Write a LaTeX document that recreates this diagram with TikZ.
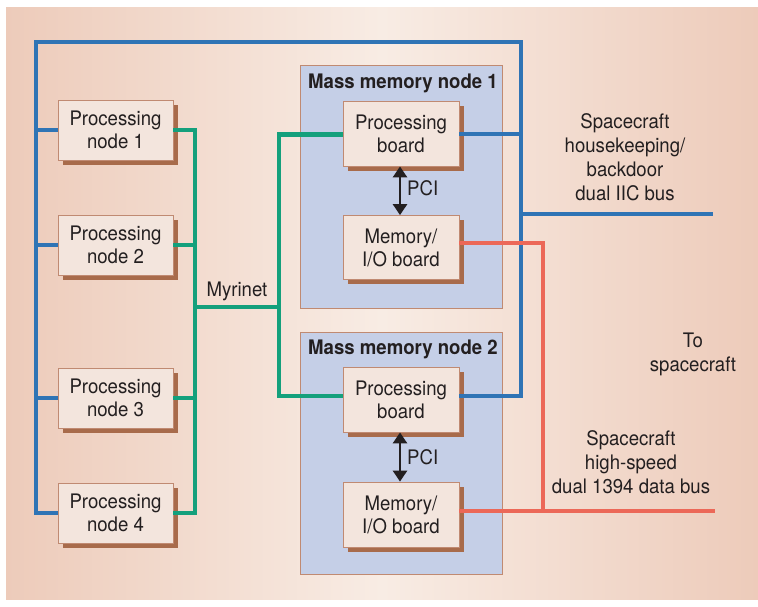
\documentclass[tikz,border=0pt]{standalone}
\usepackage{fontspec}
\setmainfont{TeX Gyre Heros}[FakeStretch=0.93]
\usetikzlibrary{arrows.meta,shadows}

\definecolor{bgedge}{HTML}{EDCBBA}
\definecolor{bgmid}{HTML}{F8ECE4}
\definecolor{busblue}{HTML}{2F74B5}
\definecolor{busgreen}{HTML}{14A07C}
\definecolor{busred}{HTML}{EC6858}
\definecolor{boxfill}{HTML}{F3E5DD}
\definecolor{boxline}{HTML}{C08A72}
\definecolor{boxshadow}{HTML}{A86B4B}
\definecolor{mmfill}{HTML}{C5CFE7}
\definecolor{ink}{HTML}{231F20}

\tikzset{
  unit/.style={draw=boxline, line width=0.8pt, fill=boxfill,
    minimum width=115pt, minimum height=60pt, inner sep=0pt,
    align=center, text=ink, font=\fontsize{20}{23}\selectfont,
    drop shadow={shadow xshift=4.5pt, shadow yshift=-4.5pt,
      fill=boxshadow, opacity=1}},
  board/.style={unit, minimum width=116pt, minimum height=65pt},
  mmbox/.style={draw=boxline, line width=0.8pt, fill=mmfill,
    minimum width=202pt, inner sep=0pt},
  mmtitle/.style={text=ink, font=\fontsize{20}{23}\selectfont\bfseries, inner sep=0pt},
  label/.style={text=ink, font=\fontsize{20}{24}\selectfont, align=center, inner sep=0pt},
  bluebus/.style={draw=busblue, line width=4.6pt},
  greenbus/.style={draw=busgreen, line width=4.6pt},
  redbus/.style={draw=busred, line width=4.6pt},
  pcilink/.style={draw=ink, line width=2.6pt,
    {Triangle[width=14pt,length=11pt]}-{Triangle[width=14pt,length=11pt]}}
}

\begin{document}
\begin{tikzpicture}[x=1pt,y=-1pt]
  % page and shaded backdrop
  \useasboundingbox (0,0) rectangle (758,606);
  \fill[white] (0,0) rectangle (758,606);
  \shade[left color=bgedge, right color=bgedge, middle color=bgmid]
    (6,7) rectangle (758,599);

  % mass memory enclosures
  \node[mmbox, minimum height=243pt] (mm1) at (401,186.5) {};
  \node[mmbox, minimum height=242pt] (mm2) at (401,453) {};
  \node[mmtitle] (mm1t) at (403,83) {Mass memory node 1};
  \node[mmtitle] (mm2t) at (403,349) {Mass memory node 2};

  % processing nodes
  \node[unit] (p1) at (115.5,130) {Processing\\node 1};
  \node[unit] (p2) at (115.5,245) {Processing\\node 2};
  \node[unit] (p3) at (115.5,398) {Processing\\node 3};
  \node[unit] (p4) at (115.5,513) {Processing\\node 4};

  % boards inside the mass memory nodes
  \node[board] (pb1) at (401,133.5) {Processing\\board};
  \node[board, minimum height=64pt] (mb1) at (401,247.5) {Memory/\\I/O board};
  \node[board] (pb2) at (401,399.5) {Processing\\board};
  \node[board] (mb2) at (401,514.5) {Memory/\\I/O board};

  % board ports, a little above each board's centre
  \coordinate (pb1w) at ([yshift=-1pt]pb1.west);
  \coordinate (pb1e) at ([yshift=-0.5pt]pb1.east);
  \coordinate (mb1e) at ([yshift=4.5pt]mb1.east);
  \coordinate (pb2w) at ([yshift=3.5pt]pb2.west);
  \coordinate (pb2e) at ([yshift=3.5pt]pb2.east);
  \coordinate (mb2e) at ([yshift=3.5pt]mb2.east);

  % bus corner points
  \coordinate (btl) at (36,42);
  \coordinate (btr) at (521,42);
  \coordinate (bout) at (713,214);
  \coordinate (gl) at (195,307);
  \coordinate (gr) at (279,307);
  \coordinate (rjoin) at (543,511);
  \coordinate (rout) at (715,511);

  % housekeeping bus (blue)
  \draw[bluebus] (p4.west) -| (btl) -- (btr) |- (pb2e);
  \draw[bluebus] (p1.west) -- (p1.west -| btl);
  \draw[bluebus] (p2.west) -- (p2.west -| btl);
  \draw[bluebus] (p3.west) -- (p3.west -| btl);
  \draw[bluebus] (pb1e) -- (pb1e -| btr);
  \draw[bluebus] (bout -| btr) -- (bout);

  % Myrinet (green)
  \draw[greenbus] (p1.east) -| (gl) |- (p4.east);
  \draw[greenbus] (p2.east) -- (p2.east -| gl);
  \draw[greenbus] (p3.east) -- (p3.east -| gl);
  \draw[greenbus] (gl) -- (gr);
  \draw[greenbus] (pb1w) -| (gr) |- (pb2w);

  % 1394 data bus (red)
  \draw[redbus] (mb1e) -| (rjoin);
  \draw[redbus] (mb2e) -- (rout);

  % PCI links
  \draw[pcilink] (pb1.south -| 400,0) -- (mb1.north -| 400,0);
  \draw[pcilink] (pb2.south -| 400,0) -- (mb2.north -| 400,0);
  \node[label, anchor=west] (pci1) at (407,188) {PCI};
  \node[label, anchor=west] (pci2) at (407,457) {PCI};

  % text labels
  \node[label] (myr) at (237,291) {Myrinet};
  \node[label] (hk) at (625,157) {Spacecraft\\housekeeping/\\backdoor\\dual IIC bus};
  \node[label] (to) at (693,354) {To\\spacecraft};
  \node[label] (hs) at (631,462) {Spacecraft\\high-speed\\dual 1394 data bus};
\end{tikzpicture}
\end{document}
